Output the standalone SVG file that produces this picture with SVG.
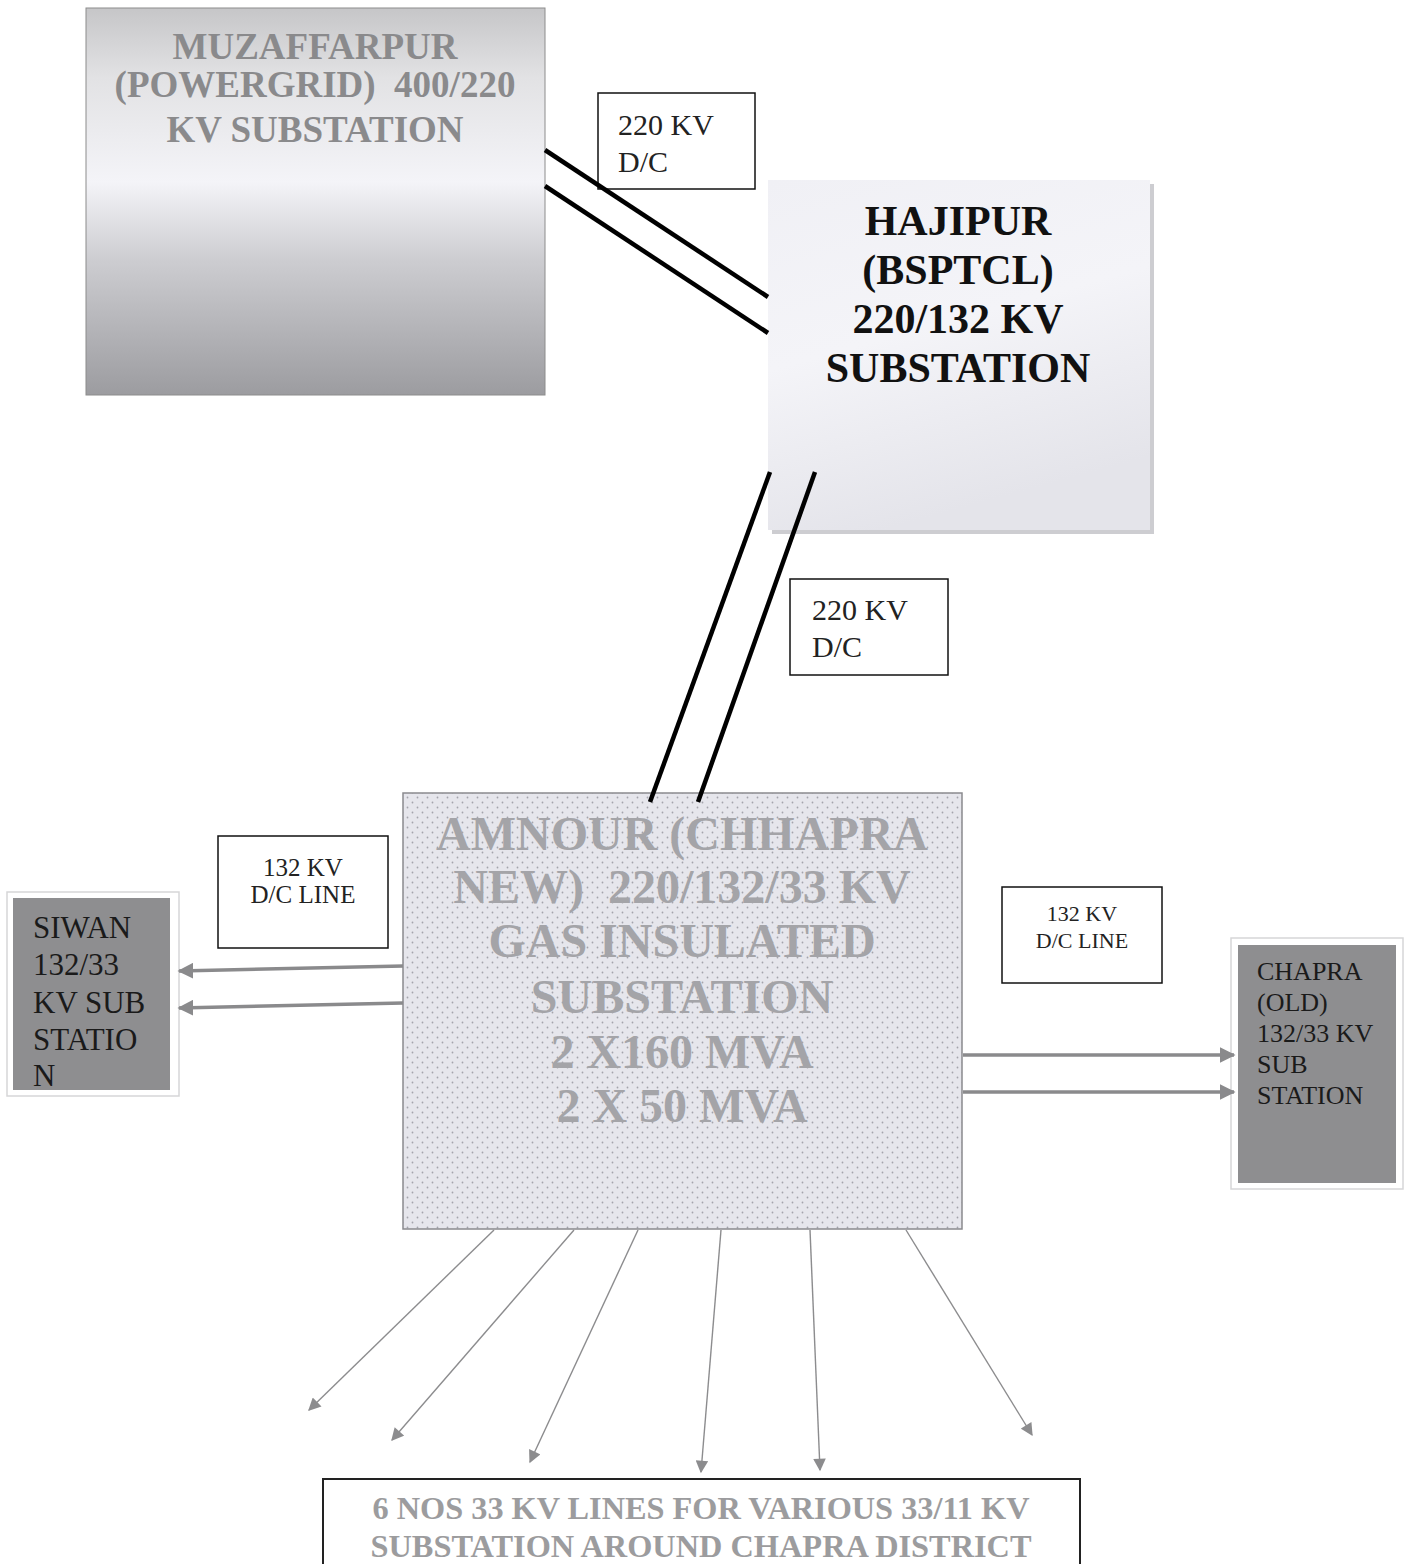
<svg xmlns="http://www.w3.org/2000/svg" width="1408" height="1564" viewBox="0 0 1408 1564">
<style>
.big{font-family:"Liberation Serif","Times New Roman",serif;font-weight:bold;text-anchor:middle;white-space:pre}
.reg{font-family:"Liberation Serif","Times New Roman",serif;white-space:pre}
.lbl{fill:#fff;stroke:#111;stroke-width:1.5}
.hv{stroke:#000;stroke-width:4.5;fill:none}
.ar{stroke:#8a8a8c;stroke-width:3.5;fill:none}
.ar2{stroke:#8c8c8e;stroke-width:1.4;fill:none}
</style>
<defs>
<linearGradient id="gMuz" x1="0" y1="0" x2="0" y2="1">
<stop offset="0" stop-color="#c6c6c8"/>
<stop offset="0.18" stop-color="#e2e2e4"/>
<stop offset="0.45" stop-color="#f4f4f8"/>
<stop offset="0.65" stop-color="#cdcdd1"/>
<stop offset="1" stop-color="#9c9ca0"/>
</linearGradient>
<linearGradient id="gHaj" x1="0" y1="0" x2="0.3" y2="1">
<stop offset="0" stop-color="#f0f0f5"/>
<stop offset="0.5" stop-color="#f4f4f8"/>
<stop offset="1" stop-color="#e4e4ea"/>
</linearGradient>
<pattern id="dots" width="10" height="10" patternUnits="userSpaceOnUse">
<rect width="10" height="10" fill="#e6e6ec"/>
<circle cx="2.5" cy="2.5" r="0.9" fill="#a4a4ac"/>
<circle cx="7.5" cy="7.5" r="0.9" fill="#a4a4ac"/>
</pattern>
<marker id="mBig" viewBox="0 0 10 10" refX="9" refY="5" markerWidth="4.5" markerHeight="4.5" orient="auto" markerUnits="strokeWidth">
<path d="M0,0 L10,5 L0,10 Z" fill="#8a8a8c"/>
</marker>
<marker id="mSm" viewBox="0 0 10 10" refX="9" refY="5" markerWidth="10" markerHeight="9" orient="auto" markerUnits="strokeWidth">
<path d="M0,0 L10,5 L0,10 Z" fill="#8c8c8e"/>
</marker>
</defs>
<rect width="1408" height="1564" fill="#fff"/>

<g id="muzaffarpur">
<rect x="86" y="8" width="459" height="387" fill="url(#gMuz)" stroke="#8c8c8c" stroke-width="1"/>
<text class="big" font-size="37" fill="#8a8a8c"><tspan x="315" y="59">MUZAFFARPUR</tspan><tspan x="315" y="97">(POWERGRID)  400/220</tspan><tspan x="315" y="142">KV SUBSTATION</tspan></text>
</g>

<g id="label-220-1">
<rect class="lbl" x="598" y="93" width="157" height="96"/>
<text class="reg" font-size="30" fill="#222"><tspan x="618" y="135">220 KV</tspan><tspan x="618" y="172">D/C</tspan></text>
</g>

<g id="hajipur">
<rect x="772" y="184" width="382" height="350" fill="#cdcdd1"/>
<rect x="768" y="180" width="382" height="350" fill="url(#gHaj)"/>
<text class="big" font-size="42" fill="#111"><tspan x="958" y="235">HAJIPUR</tspan><tspan x="958" y="284">(BSPTCL)</tspan><tspan x="958" y="333">220/132 KV</tspan><tspan x="958" y="382">SUBSTATION</tspan></text>
</g>

<g id="label-220-2">
<rect class="lbl" x="790" y="579" width="158" height="96"/>
<text class="reg" font-size="30" fill="#222"><tspan x="812" y="620">220 KV</tspan><tspan x="812" y="657">D/C</tspan></text>
</g>

<g id="amnour">
<rect x="403" y="793" width="559" height="436" fill="url(#dots)" stroke="#8a8a8e" stroke-width="1.5"/>
<text class="big" font-size="48" fill="#a4a4a8"><tspan x="682" y="850">AMNOUR (CHHAPRA</tspan><tspan x="682" y="903">NEW)  220/132/33 KV</tspan><tspan x="682" y="957">GAS INSULATED</tspan><tspan x="682" y="1013">SUBSTATION</tspan><tspan x="682" y="1068">2 X160 MVA</tspan><tspan x="682" y="1122">2 X 50 MVA</tspan></text>
</g>

<g id="label-132-left">
<rect class="lbl" x="218" y="836" width="170" height="112"/>
<text class="reg" font-size="25" fill="#222" text-anchor="middle"><tspan x="303" y="876">132 KV</tspan><tspan x="303" y="903">D/C LINE</tspan></text>
</g>

<g id="siwan">
<rect x="7" y="892" width="172" height="204" fill="none" stroke="#d6d6d8" stroke-width="1.5"/>
<rect x="13" y="898" width="157" height="192" fill="#8e8e90"/>
<text class="reg" font-size="31" fill="#1a1a1a"><tspan x="33" y="938">SIWAN</tspan><tspan x="33" y="975">132/33</tspan><tspan x="33" y="1013">KV SUB</tspan><tspan x="33" y="1050">STATIO</tspan><tspan x="33" y="1086">N</tspan></text>
</g>

<g id="label-132-right">
<rect class="lbl" x="1002" y="887" width="160" height="96"/>
<text class="reg" font-size="22" fill="#222" text-anchor="middle"><tspan x="1082" y="921">132 KV</tspan><tspan x="1082" y="948">D/C LINE</tspan></text>
</g>

<g id="chapra">
<rect x="1231" y="938" width="172" height="251" fill="none" stroke="#d6d6d8" stroke-width="1.5"/>
<rect x="1238" y="945" width="158" height="238" fill="#8e8e90"/>
<text class="reg" font-size="26" fill="#1a1a1a"><tspan x="1257" y="980">CHAPRA</tspan><tspan x="1257" y="1011">(OLD)</tspan><tspan x="1257" y="1042">132/33 KV</tspan><tspan x="1257" y="1073">SUB</tspan><tspan x="1257" y="1104">STATION</tspan></text>
</g>

<g id="bottom-box">
<rect x="323" y="1479" width="757" height="100" fill="#fff" stroke="#222" stroke-width="2"/>
<text class="big" font-size="32" fill="#9c9c9e"><tspan x="701" y="1519" textLength="657" lengthAdjust="spacingAndGlyphs">6 NOS 33 KV LINES FOR VARIOUS 33/11 KV</tspan><tspan x="701" y="1557" textLength="661" lengthAdjust="spacingAndGlyphs">SUBSTATION AROUND CHAPRA DISTRICT</tspan></text>
</g>

<g id="connectors">
<line class="hv" x1="545" y1="150" x2="768" y2="297"/>
<line class="hv" x1="545" y1="186" x2="768" y2="333"/>
<line class="hv" x1="770" y1="472" x2="650" y2="802"/>
<line class="hv" x1="815" y1="472" x2="698" y2="802"/>
<line class="ar" x1="403" y1="966" x2="179" y2="971" marker-end="url(#mBig)"/>
<line class="ar" x1="403" y1="1003" x2="179" y2="1008" marker-end="url(#mBig)"/>
<line class="ar" x1="963" y1="1055" x2="1234" y2="1055" marker-end="url(#mBig)"/>
<line class="ar" x1="963" y1="1092" x2="1234" y2="1092" marker-end="url(#mBig)"/>
<line class="ar2" x1="494" y1="1230" x2="309" y2="1410" marker-end="url(#mSm)"/>
<line class="ar2" x1="574" y1="1230" x2="392" y2="1440" marker-end="url(#mSm)"/>
<line class="ar2" x1="638" y1="1230" x2="530" y2="1462" marker-end="url(#mSm)"/>
<line class="ar2" x1="721" y1="1230" x2="701" y2="1472" marker-end="url(#mSm)"/>
<line class="ar2" x1="810" y1="1230" x2="820" y2="1470" marker-end="url(#mSm)"/>
<line class="ar2" x1="906" y1="1230" x2="1032" y2="1435" marker-end="url(#mSm)"/>
</g>
</svg>
